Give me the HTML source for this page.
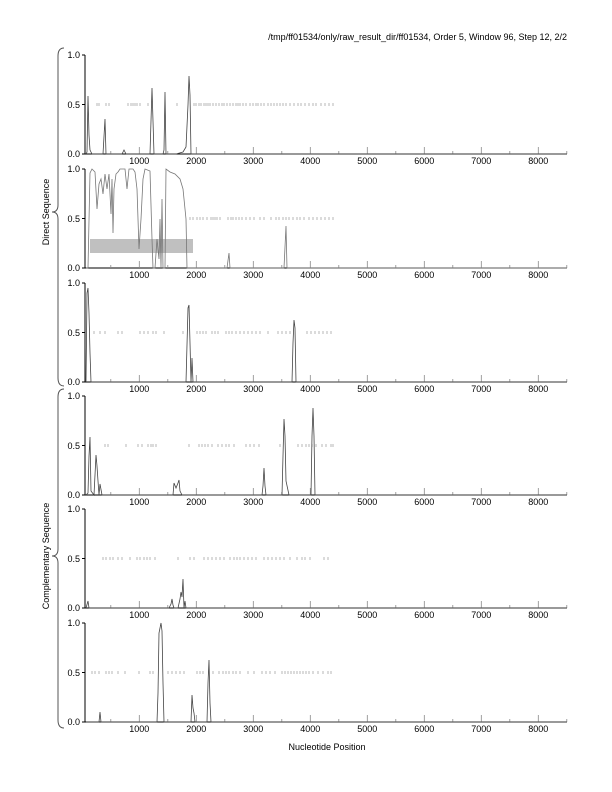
<!DOCTYPE html>
<html><head><meta charset="utf-8"><style>
html,body{margin:0;padding:0;background:#fff}
svg{display:block}
text{font-family:"Liberation Sans",sans-serif;font-size:9px;fill:#000}
.ax{stroke:#000;stroke-width:1;fill:none}
.tk{stroke:#888;stroke-width:0.8;fill:none}
.ds{stroke:#999;stroke-width:0.7;fill:none}
.tr{stroke:#444;stroke-width:0.8;fill:none}
.tr2{stroke:#777;stroke-width:0.8;fill:none}
</style></head><body>
<svg width="612" height="792" viewBox="0 0 612 792" xmlns="http://www.w3.org/2000/svg">
<defs>
<g id="axes">
<path class="ax" d="M85 0V99H567"/>
<path class="ax" d="M82 0H85M82 49.5H85M82 99H85"/>
<path class="tk" d="M139.3 99v-7M196.3 99v-7M253.3 99v-7M310.3 99v-7M367.3 99v-7M424.3 99v-7M481.3 99v-7M538.3 99v-7M110.8 99v-3M167.8 99v-3M224.8 99v-3M281.8 99v-3M338.8 99v-3M395.8 99v-3M452.8 99v-3M509.8 99v-3M566.8 99v-3"/>
</g>
</defs>

<text x="567" y="40" text-anchor="end">/tmp/ff01534/only/raw_result_dir/ff01534, Order 5, Window 96, Step 12, 2/2</text>

<path class="ax" style="stroke:#555" d="M64 48 Q58 48 58 56 V205 Q58 212 52 212 Q58 212 58 219 V378 Q58 386 64 386"/>
<path class="ax" style="stroke:#555" d="M64 389 Q58 389 58 397 V549 Q58 556 52 556 Q58 556 58 563 V720 Q58 728 64 728"/>
<text transform="translate(49,212) rotate(-90)" text-anchor="middle">Direct Sequence</text>
<text transform="translate(49,556) rotate(-90)" text-anchor="middle">Complementary Sequence</text>
<text x="327" y="750" text-anchor="middle">Nucleotide Position</text>

<g transform="translate(0,55)">
<use href="#axes"/>
<text x="80" y="3" text-anchor="end">1.0</text><text x="80" y="53" text-anchor="end">0.5</text><text x="80" y="102" text-anchor="end">0.0</text>
<text x="139.3" y="109" text-anchor="middle">1000</text><text x="196.3" y="109" text-anchor="middle">2000</text><text x="253.3" y="109" text-anchor="middle">3000</text><text x="310.3" y="109" text-anchor="middle">4000</text><text x="367.3" y="109" text-anchor="middle">5000</text><text x="424.3" y="109" text-anchor="middle">6000</text><text x="481.3" y="109" text-anchor="middle">7000</text><text x="538.3" y="109" text-anchor="middle">8000</text>
<path class="ds" d="M97 48v3M99 48v3M106 48v3M109 48v3M128 48v3M131 48v3M133 48v3M135 48v3M137 48v3M140 48v3M148 48v3M177 48v3M194 48v3M196 48v3M199 48v3M201 48v3M204 48v3M206 48v3M208 48v3M210 48v3M213 48v3M216 48v3M219 48v3M222 48v3M224 48v3M227 48v3M230 48v3M233 48v3M236 48v3M238 48v3M240 48v3M243 48v3M246 48v3M250 48v3M253 48v3M256 48v3M258 48v3M261 48v3M264 48v3M268 48v3M271 48v3M274 48v3M277 48v3M280 48v3M283 48v3M286 48v3M290 48v3M294 48v3M298 48v3M301 48v3M305 48v3M309 48v3M313 48v3M316 48v3M321 48v3M325 48v3M329 48v3M333 48v3"/>
<path class="tr" d="M86 99L87 97L88 41L89 80L90 95L92 99L103 99L105 64L106 99L122 99L124 95L126 99L150 99L152 33L154 99L163 99L164 95L165 37L166 99L176 99L183 97L186 92L188 50L189 21L190 40L191 99L567 99"/>
</g>

<g transform="translate(0,169)">
<use href="#axes"/>
<text x="80" y="3" text-anchor="end">1.0</text><text x="80" y="53" text-anchor="end">0.5</text><text x="80" y="102" text-anchor="end">0.0</text>
<text x="139.3" y="109" text-anchor="middle">1000</text><text x="196.3" y="109" text-anchor="middle">2000</text><text x="253.3" y="109" text-anchor="middle">3000</text><text x="310.3" y="109" text-anchor="middle">4000</text><text x="367.3" y="109" text-anchor="middle">5000</text><text x="424.3" y="109" text-anchor="middle">6000</text><text x="481.3" y="109" text-anchor="middle">7000</text><text x="538.3" y="109" text-anchor="middle">8000</text>
<rect x="90" y="70" width="103" height="14" fill="#c0c0c0"/>
<path class="ds" d="M190 48v3M193 48v3M197 48v3M200 48v3M203 48v3M207 48v3M211 48v3M213 48v3M215 48v3M217 48v3M220 48v3M228 48v3M231 48v3M233 48v3M236 48v3M239 48v3M242 48v3M246 48v3M250 48v3M254 48v3M260 48v3M264 48v3M271 48v3M276 48v3M279 48v3M283 48v3M286 48v3M289 48v3M293 48v3M297 48v3M300 48v3M304 48v3M309 48v3M313 48v3M317 48v3M321 48v3M325 48v3M329 48v3M333 48v3"/>
<path class="tr2" d="M86 99L88 99L90 4L92 0L95 3L97 40L99 15L101 10L103 25L105 5L107 20L109 5L111 45L112 10L113 64L114 20L116 5L118 3L120 0L125 0L127 20L129 0L133 0L135 3L137 20L139 80L141 50L143 10L145 0L150 2L152 70L153 99L155 99L157 70L159 90L160 50L161 99L162 30L163 99L165 99L166 0L170 3L175 5L180 10L183 20L186 50L187 99L227 99L229 84L230 99L284 99L286 57L287 99L567 99"/>
</g>

<g transform="translate(0,283)">
<use href="#axes"/>
<text x="80" y="3" text-anchor="end">1.0</text><text x="80" y="53" text-anchor="end">0.5</text><text x="80" y="102" text-anchor="end">0.0</text>
<text x="139.3" y="109" text-anchor="middle">1000</text><text x="196.3" y="109" text-anchor="middle">2000</text><text x="253.3" y="109" text-anchor="middle">3000</text><text x="310.3" y="109" text-anchor="middle">4000</text><text x="367.3" y="109" text-anchor="middle">5000</text><text x="424.3" y="109" text-anchor="middle">6000</text><text x="481.3" y="109" text-anchor="middle">7000</text><text x="538.3" y="109" text-anchor="middle">8000</text>
<path class="ds" d="M94 48v3M100 48v3M105 48v3M118 48v3M122 48v3M140 48v3M144 48v3M148 48v3M153 48v3M156 48v3M164 48v3M183 48v3M197 48v3M200 48v3M203 48v3M206 48v3M212 48v3M215 48v3M218 48v3M226 48v3M229 48v3M232 48v3M236 48v3M240 48v3M244 48v3M248 48v3M252 48v3M256 48v3M260 48v3M268 48v3M278 48v3M282 48v3M286 48v3M290 48v3M307 48v3M311 48v3M315 48v3M319 48v3M323 48v3M327 48v3M331 48v3"/>
<path class="tr" d="M86 99L87 10L88 5L89 30L90 70L91 99L186 99L188 25L189 22L190 60L191 99L192 75L193 99L292 99L293 60L294 37L295 45L296 99L567 99"/>
</g>

<g transform="translate(0,396)">
<use href="#axes"/>
<text x="80" y="3" text-anchor="end">1.0</text><text x="80" y="53" text-anchor="end">0.5</text><text x="80" y="102" text-anchor="end">0.0</text>
<text x="139.3" y="109" text-anchor="middle">1000</text><text x="196.3" y="109" text-anchor="middle">2000</text><text x="253.3" y="109" text-anchor="middle">3000</text><text x="310.3" y="109" text-anchor="middle">4000</text><text x="367.3" y="109" text-anchor="middle">5000</text><text x="424.3" y="109" text-anchor="middle">6000</text><text x="481.3" y="109" text-anchor="middle">7000</text><text x="538.3" y="109" text-anchor="middle">8000</text>
<path class="ds" d="M105 48v3M108 48v3M126 48v3M138 48v3M142 48v3M148 48v3M151 48v3M153 48v3M156 48v3M189 48v3M199 48v3M202 48v3M205 48v3M208 48v3M212 48v3M218 48v3M222 48v3M226 48v3M229 48v3M234 48v3M246 48v3M250 48v3M254 48v3M259 48v3M280 48v3M298 48v3M302 48v3M306 48v3M309 48v3M312 48v3M316 48v3M322 48v3M326 48v3M331 48v3M333 48v3"/>
<path class="tr" d="M86 99L88 97L89 60L90 41L91 95L94 99L96 59L97 70L98 85L99 99L100 88L102 99L173 99L174 87L176 92L178 87L179 84L180 95L182 99L262 99L263 90L264 72L265 90L266 99L282 99L283 60L284 23L285 40L286 85L289 99L311 99L312 40L313 12L314 40L315 99L567 99"/>
</g>

<g transform="translate(0,509)">
<use href="#axes"/>
<text x="80" y="3" text-anchor="end">1.0</text><text x="80" y="53" text-anchor="end">0.5</text><text x="80" y="102" text-anchor="end">0.0</text>
<text x="139.3" y="109" text-anchor="middle">1000</text><text x="196.3" y="109" text-anchor="middle">2000</text><text x="253.3" y="109" text-anchor="middle">3000</text><text x="310.3" y="109" text-anchor="middle">4000</text><text x="367.3" y="109" text-anchor="middle">5000</text><text x="424.3" y="109" text-anchor="middle">6000</text><text x="481.3" y="109" text-anchor="middle">7000</text><text x="538.3" y="109" text-anchor="middle">8000</text>
<path class="ds" d="M103 48v3M106 48v3M110 48v3M113 48v3M118 48v3M122 48v3M130 48v3M137 48v3M140 48v3M144 48v3M147 48v3M150 48v3M155 48v3M178 48v3M190 48v3M194 48v3M204 48v3M208 48v3M212 48v3M216 48v3M220 48v3M224 48v3M230 48v3M234 48v3M237 48v3M240 48v3M244 48v3M248 48v3M252 48v3M256 48v3M264 48v3M268 48v3M272 48v3M276 48v3M280 48v3M284 48v3M290 48v3M297 48v3M302 48v3M305 48v3M310 48v3M324 48v3M328 48v3"/>
<path class="tr" d="M86 99L88 92L89 99L169 99L171 95L172 90L173 96L174 99L178 99L180 90L181 83L182 88L183 70L184 99L185 92L186 99L567 99"/>
</g>

<g transform="translate(0,623)">
<use href="#axes"/>
<text x="80" y="3" text-anchor="end">1.0</text><text x="80" y="53" text-anchor="end">0.5</text><text x="80" y="102" text-anchor="end">0.0</text>
<text x="139.3" y="109" text-anchor="middle">1000</text><text x="196.3" y="109" text-anchor="middle">2000</text><text x="253.3" y="109" text-anchor="middle">3000</text><text x="310.3" y="109" text-anchor="middle">4000</text><text x="367.3" y="109" text-anchor="middle">5000</text><text x="424.3" y="109" text-anchor="middle">6000</text><text x="481.3" y="109" text-anchor="middle">7000</text><text x="538.3" y="109" text-anchor="middle">8000</text>
<path class="ds" d="M92 48v3M95 48v3M99 48v3M106 48v3M109 48v3M112 48v3M118 48v3M125 48v3M139 48v3M150 48v3M153 48v3M168 48v3M172 48v3M176 48v3M180 48v3M184 48v3M197 48v3M200 48v3M203 48v3M213 48v3M219 48v3M223 48v3M226 48v3M229 48v3M233 48v3M236 48v3M240 48v3M248 48v3M254 48v3M262 48v3M266 48v3M270 48v3M275 48v3M282 48v3M285 48v3M288 48v3M291 48v3M294 48v3M297 48v3M300 48v3M303 48v3M306 48v3M309 48v3M313 48v3M318 48v3M323 48v3M328 48v3M331 48v3"/>
<path class="tr" d="M86 99L99 99L100 89L101 99L157 99L158 70L159 10L160 5L161 0L162 8L163 60L164 99L191 99L192 72L193 85L194 90L195 99L207 99L208 60L209 37L210 80L211 99L567 99"/>
</g>
</svg>
</body></html>
